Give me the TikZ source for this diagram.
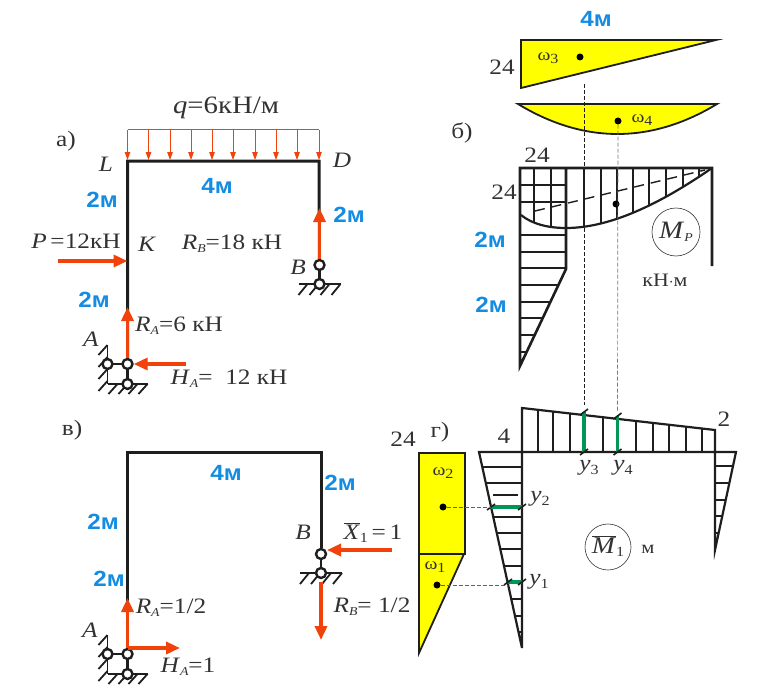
\documentclass[tikz,border=0pt]{standalone}
\usepackage{fontspec}
\setmainfont[FakeStretch=1.15]{Liberation Serif}
\newfontfamily\blueface[FakeStretch=1.1]{Liberation Sans}
\usetikzlibrary{arrows.meta}
\definecolor{frameblack}{RGB}{30,30,30}
\definecolor{forcered}{RGB}{240,66,10}
\definecolor{lenblue}{RGB}{20,140,225}
\definecolor{areayellow}{RGB}{255,255,0}
\definecolor{ordgreen}{RGB}{0,150,85}
\definecolor{labgrey}{RGB}{50,50,50}
\newcommand{\lowtxt}[1]{\raisebox{-3pt}{\fontsize{12}{12}\selectfont\itshape #1}}
\newcommand{\lowup}[1]{\raisebox{-3.5pt}{\fontsize{14}{14}\selectfont #1}}
\newcommand{\barred}[1]{$\overline{\mbox{\textit{#1}}}$}
\tikzset{
  lab/.style={text=labgrey,inner sep=0pt,font=\fontsize{22}{22}\selectfont},
  lensize/.style={text=lenblue,inner sep=0pt,font=\blueface\bfseries\fontsize{22}{22}\selectfont},
  framebar/.style={frameblack,line width=3pt},
  force/.style={forcered,line width=3.4pt,-{Triangle[length=14pt,width=12pt]}},
  loadtip/.style={forcered,line width=.9pt,-{Triangle[length=8pt,width=5.5pt]}},
  hinge/.style={circle,draw=frameblack,fill=white,line width=2.4pt,minimum size=10pt,inner sep=0pt},
  groundline/.style={frameblack,line width=1.8pt},
  area/.style={fill=areayellow,draw=frameblack,line width=1.8pt},
  outline/.style={frameblack,line width=2.2pt},
  hatchline/.style={frameblack,line width=1.1pt},
  ordline/.style={ordgreen,line width=3.2pt},
  tickline/.style={frameblack,line width=1.6pt},
  guide/.style={frameblack,line width=.7pt,dash pattern=on 4pt off 2pt},
  centroid/.style={circle,fill=black,minimum size=7pt,inner sep=0pt},
  tagcircle/.style={circle,draw=labgrey,line width=.6pt,inner sep=0pt},
  pics/fixedsup/.style={code={
    \draw[groundline] (-20,-19) -- (-20,20) (-20,20) -- (20,20);
    \foreach \y in {-19,-7,5,17} \draw[groundline] (-20,\y) -- (-29,\y+10);
    \foreach \x in {-10,0,10,20} \draw[groundline] (\x,20) -- (\x-9,30);
    \draw[frameblack,line width=2.4pt] (-20,0) -- (0,0) -- (0,20);
    \node[hinge] (-side) at (-20,0) {};
    \node[hinge] (-low) at (0,20) {};
    \node[hinge] (-top) at (0,0) {};
  }},
  pics/rollersup/.style={code={
    \draw[groundline] (-21,19) -- (21,19);
    \foreach \x in {-12,-1,10,21} \draw[groundline] (\x,19) -- (\x-9,30);
    \draw[frameblack,line width=2.4pt] (0,0) -- (0,19);
    \node[hinge] (-low) at (0,19) {};
    \node[hinge] (-top) at (0,0) {};
  }}
}
\begin{document}
\begin{tikzpicture}[x=1pt,y=-1pt]
\useasboundingbox (0,0) rectangle (776,698);

% frame a
\coordinate (aL) at (127.5,161);
\coordinate (aD) at (319,161);
\coordinate (aK) at (127.5,261);
\coordinate (aPend) at (58,261);
\coordinate (aHend) at (186,364);
\coordinate (aLoadL) at (127.5,130);
\coordinate (aLoadR) at (319,130);
\coordinate (aRAtip) at (127.5,307);
\coordinate (aRBtip) at (319.5,208);
\pic (asupA) at (127.5,364) {fixedsup};
\pic (asupB) at (319.5,265) {rollersup};
\draw[framebar] (asupA-top) -- (aL) -- (aD) -- (asupB-top);
\draw[forcered,line width=1pt] (aLoadL) -- (aLoadR);
\foreach \x in {127.5,148.5,170,191,212,233,255,276,297,319}
  \draw[loadtip] (\x,130) -- (\x,160);
\draw[force] (aPend) -- (aK);
\draw[force] (asupA-top) -- (aRAtip);
\draw[force] (aHend) -- (asupA-top.east);
\draw[force] (asupB-top) -- (aRBtip);
\node[lab] (atag) at (66,141) {а)};
\node[lab,font=\fontsize{25}{25}\selectfont] (aq) at (226,108) {\textit{q}=6кН/м};
\node[lab] (aLtxt) at (106,164) {\textit{L}};
\node[lab] (aDtxt) at (342,160) {\textit{D}};
\node[lensize] (aLen1) at (102,200) {2м};
\node[lensize] (aLen2) at (217,186) {4м};
\node[lensize] (aLen3) at (349,215) {2м};
\node[lensize] (aLen4) at (94,300) {2м};
\node[lab] (aP) at (76,241) {\textit{P}\,=12кН};
\node[lab] (aKtxt) at (147,244) {\textit{K}};
\node[lab] (aRB) at (232,244) {\textit{R}\lowtxt{B}=18 кН};
\node[lab] (aBtxt) at (298,267) {\textit{B}};
\node[lab] (aRA) at (179,326) {\textit{R}\lowtxt{A}=6 кН};
\node[lab] (aAtxt) at (91,339) {\textit{A}};
\node[lab] (aHA) at (229,379) {\textit{H}\lowtxt{A}=\ \ 12 кН};

% frame v
\coordinate (vL) at (127.5,452);
\coordinate (vD) at (321,452);
\coordinate (vHtip) at (180,648);
\coordinate (vHstart) at (127.5,648);
\coordinate (vRAtip) at (127.5,598);
\coordinate (vXstart) at (392,550);
\coordinate (vXtip) at (327,550);
\coordinate (vRBstart) at (321,582);
\coordinate (vRBtip) at (321,640);
\pic (vsupA) at (127.5,654) {fixedsup};
\pic (vsupB) at (321,554) {rollersup};
\draw[framebar] (vsupA-top) -- (vL) -- (vD) -- (vsupB-top);
\draw[force] (vsupA-top) -- (vRAtip);
\draw[force] (vHstart) -- (vHtip);
\draw[force] (vXstart) -- (vXtip);
\draw[force] (vRBstart) -- (vRBtip);
\node[lab] (vtag) at (72,430) {в)};
\node[lensize] (vLen1) at (226,473) {4м};
\node[lensize] (vLen2) at (340,483) {2м};
\node[lensize] (vLen3) at (103,522) {2м};
\node[lensize] (vLen4) at (109,579) {2м};
\node[lab] (vBtxt) at (303,532) {\textit{B}};
\node[lab] (vX) at (373,533) {\barred{X}\lowup{1}\,=\,1};
\node[lab] (vRA) at (171,608) {\textit{R}\lowtxt{A}=1/2};
\node[lab] (vRB) at (372,607) {\textit{R}\lowtxt{B}=\ 1/2};
\node[lab] (vAtxt) at (90,630) {\textit{A}};
\node[lab] (vHA) at (188,667) {\textit{H}\lowtxt{A}=1};

% diagram MP
\draw[hatchline] (521,185) -- (566,185) (521,202) -- (566,202);
\begin{scope}
\clip (521,168) -- (712,168) .. controls (660,204) and (610,228) .. (566,228) .. controls (548,228) and (532,224) .. (521,215) -- cycle;
\foreach \x in {534,551,584,601,617,633,649,666,683,699}
  \draw[hatchline] (\x,168) -- (\x,240);
\end{scope}
\begin{scope}
\clip (521,168) -- (566,168) -- (566,269) -- (521,365) -- cycle;
\foreach \y in {235,252,268,285,302,318,335,352}
  \draw[hatchline] (521,\y) -- (566,\y);
\end{scope}
\draw[outline,line width=2.6pt] (712,266) -- (712,168) -- (520,168) -- (520,366) -- (566,269) -- (566,168);
\draw[outline] (521,215) .. controls (532,224) and (548,228) .. (566,228) .. controls (610,228) and (660,204) .. (712,168);
\draw[frameblack,line width=1.4pt,dash pattern=on 10pt off 7pt] (535,211) -- (705,170);
\node[tagcircle,minimum size=48pt] (mpcircle) at (676,232) {};
\node[lab,font=\fontsize{25}{25}\selectfont] (mptxt) at (676,232) {\textit{M}\lowtxt{P}};
\node[lab,font=\fontsize{19}{19}\selectfont] (mpunit) at (665,280) {кН$\cdot$м};
\node[lab] (mptag) at (462,133) {б)};
\node[lab] (mp24a) at (537,155) {24};
\node[lab] (mp24b) at (504,192) {24};
\node[lensize] (mpLen1) at (490,240) {2м};
\node[lensize] (mpLen2) at (491,305) {2м};
\node[centroid] (mpdot) at (616,204) {};

% areas w3 w4
\draw[area] (521,40) -- (716,40) -- (521,88) -- cycle;
\draw[area] (518,104) .. controls (584,144) and (651,144) .. (717,104) -- cycle;
\node[lensize] (len4m) at (596,19) {4м};
\node[lab] (w3val) at (502,67) {24};
\node[lab,font=\fontsize{17}{17}\selectfont] (w3txt) at (548,58) {ω\lowup{3}};
\node[lab,font=\fontsize{17}{17}\selectfont] (w4txt) at (642,120) {ω\lowup{4}};
\node[centroid] (w3dot) at (580,57) {};
\node[centroid] (w4dot) at (618,121) {};

% diagram M1
\begin{scope}
\clip (522,408) -- (715,430) -- (715,452) -- (522,452) -- cycle;
\foreach \x in {538,553,570,603,636,653,669,686,702}
  \draw[hatchline] (\x,405) -- (\x,452);
\end{scope}
\begin{scope}
\clip (479,452) -- (522,452) -- (522,648) -- cycle;
\foreach \y in {467,483,517,533,549,566,599,616,632}
  \draw[hatchline] (479,\y) -- (522,\y);
\end{scope}
\draw[hatchline] (493,495) -- (518,495);
\begin{scope}
\clip (715,452) -- (736,452) -- (715,550) -- cycle;
\foreach \y in {466,483,500,516,533}
  \draw[hatchline] (715,\y) -- (736,\y);
\end{scope}
\draw[outline] (522,648) -- (522,408) -- (715,430) -- (715,550) -- (736,452) -- (479,452) -- (522,648);
\coordinate (y3t) at (584,412);
\coordinate (y3b) at (584,452);
\coordinate (y4t) at (617.5,416);
\coordinate (y4b) at (617.5,452);
\coordinate (y2l) at (491,507);
\coordinate (y2r) at (522,507);
\coordinate (y1l) at (508,582);
\coordinate (y1r) at (522,582);
\coordinate (w1end) at (507,585);
\draw[ordline] (y3t) -- (y3b);
\draw[ordline] (y4t) -- (y4b);
\draw[ordline] (y2l) -- (y2r);
\draw[ordline] (y1l) -- (y1r);
\foreach \p in {y3t,y3b,y4t,y4b,y2l,y2r,y1l,y1r}
  \draw[tickline] (\p) +(-4,3) -- +(4,-3);
\node[lab] (m4) at (504,436) {4};
\node[lab] (m2) at (724,419) {2};
\node[lab] (y3txt) at (589,468) {\textit{y}\lowup{3}};
\node[lab] (y4txt) at (623,468) {\textit{y}\lowup{4}};
\node[lab] (y2txt) at (540,499) {\textit{y}\lowup{2}};
\node[lab] (y1txt) at (539,582) {\textit{y}\lowup{1}};
\node[tagcircle,minimum size=46pt] (m1circle) at (608,547) {};
\node[lab,font=\fontsize{24}{24}\selectfont] (m1txt) at (608,546) {\barred{M}\lowup{1}};
\node[lab,font=\fontsize{18}{18}\selectfont] (m1unit) at (648,549) {м};
\node[lab] (gtag) at (440,432) {г)};
\node[lab] (g24) at (403,439) {24};

% areas w1 w2
\draw[area] (419,453) rectangle (465,554);
\draw[area] (419,554) -- (464,554) -- (419,653) -- cycle;
\node[lab,font=\fontsize{17}{17}\selectfont] (w2txt) at (443,473) {ω\lowup{2}};
\node[lab,font=\fontsize{17}{17}\selectfont] (w1txt) at (435,567) {ω\lowup{1}};
\node[centroid] (w2dot) at (443,507) {};
\node[centroid] (w1dot) at (437,585) {};

% guide lines
\coordinate (g3a) at (584.5,84);
\coordinate (g3b) at (584.5,405);
\coordinate (g4b) at (617.5,412);
\draw[guide] (g3a) -- (g3b);
\draw[guide,frameblack!60] (w4dot) -- (g4b);
\draw[guide,frameblack!70] (w2dot) -- (y2l);
\draw[guide,frameblack!70] (w1dot) -- (w1end);
\end{tikzpicture}
\end{document}
